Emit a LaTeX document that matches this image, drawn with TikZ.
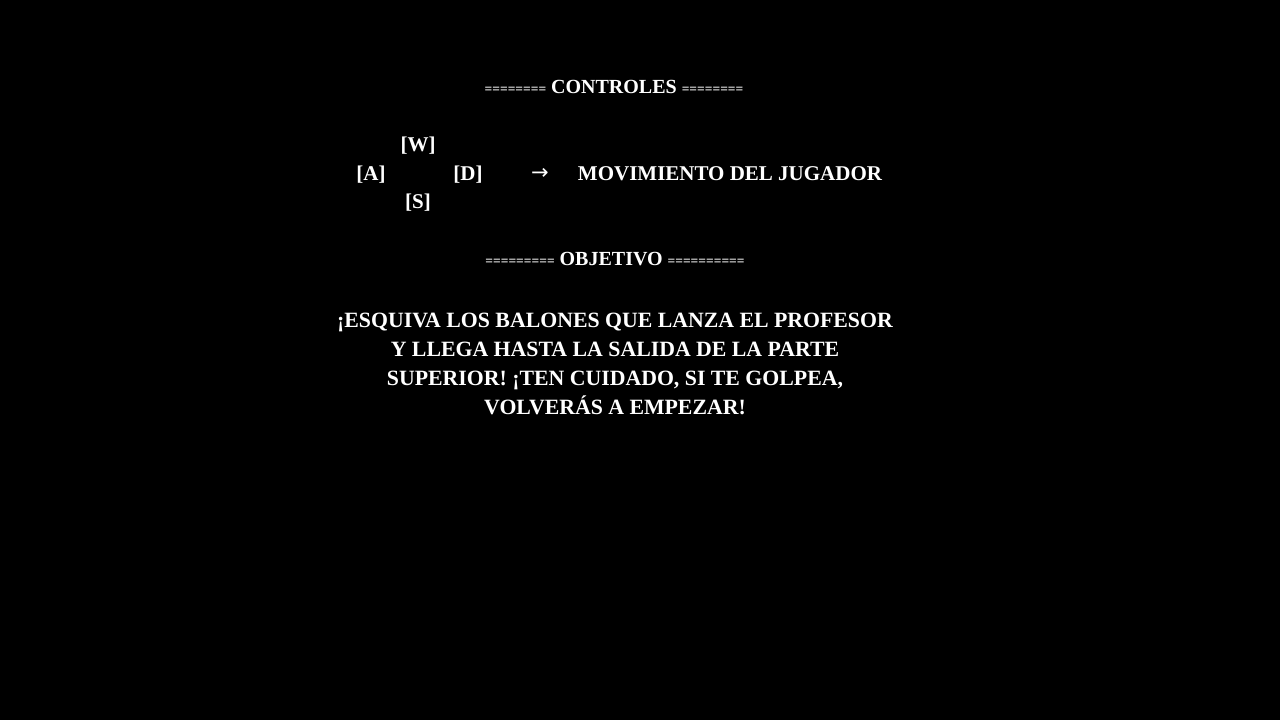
\documentclass[tikz,border=0pt]{standalone}
\usepackage{fontspec}
\setmainfont{Liberation Serif}
\newfontfamily\simbolos{DejaVu Sans}
\usetikzlibrary{positioning}

\tikzset{
  titulo/.style={text=white, anchor=base, inner sep=0pt, font=\fontsize{20}{20}\selectfont\bfseries},
  tecla/.style={text=white, anchor=base, inner sep=0pt, font=\fontsize{21}{21}\selectfont\bfseries},
  texto/.style={text=white, anchor=north, inner sep=0pt, align=center, font=\fontsize{21.8}{29}\selectfont\bfseries}
}
\newcommand{\rayas}[1]{{\fontsize{13.5}{13.5}\selectfont #1}}

\begin{document}
\begin{tikzpicture}[x=1pt, y=1pt]
    % Fondo
    \fill[black] (0,0) rectangle (1280,720);
    \useasboundingbox (0,0) rectangle (1280,720);
    % Controles
    \node[titulo] (controles) at (614,626) {\rayas{========} CONTROLES \rayas{========}};
    \node[tecla] (w) at (418,568) {[W]};
    \node[tecla] (a) at (371,539) {[A]};
    \node[tecla] (d) at (468,539) {[D]};
    \node[tecla] (s) at (418,511) {[S]};
    \node[tecla] (flecha) at (540,540) {\simbolos\mdseries →};
    \node[tecla] (mov) at (730,539) {MOVIMIENTO DEL JUGADOR};
    % Objetivo
    \node[titulo] (objetivo) at (615,454) {\rayas{=========} OBJETIVO \rayas{==========}};
    \node[texto] (texto) at (615,407) {¡ESQUIVA LOS BALONES QUE LANZA EL PROFESOR\\
        Y LLEGA HASTA LA SALIDA DE LA PARTE\\
        SUPERIOR! ¡TEN CUIDADO, SI TE GOLPEA,\\
        VOLVERÁS A EMPEZAR!};
\end{tikzpicture}
\end{document}
